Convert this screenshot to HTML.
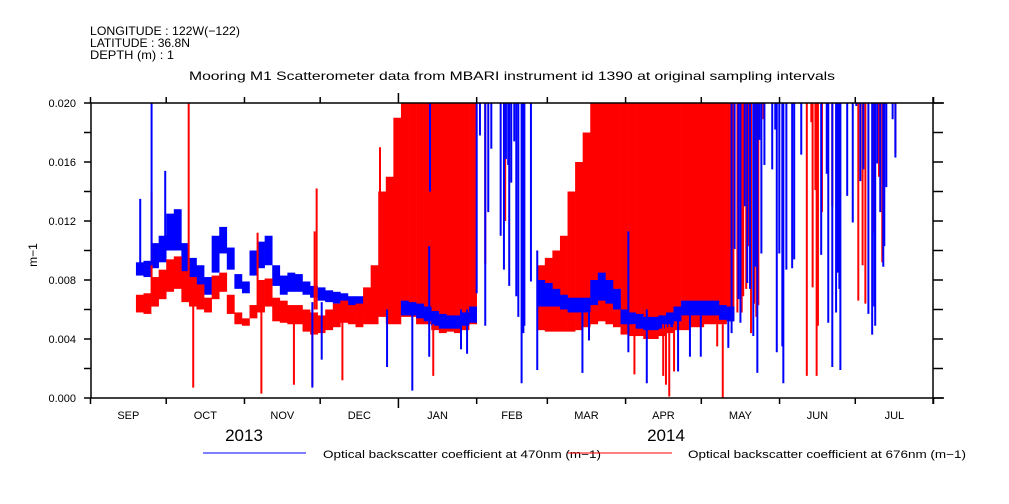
<!DOCTYPE html>
<html><head><meta charset="utf-8"><style>
html,body{margin:0;padding:0;background:#fff;}
svg{display:block;font-family:"Liberation Sans",sans-serif;}
</style></head><body>
<svg id="chart" width="1009" height="504" viewBox="0 0 1009 504" xmlns="http://www.w3.org/2000/svg">
<g font-size="12" fill="#000">
<text x="90" y="35" textLength="150" lengthAdjust="spacingAndGlyphs">LONGITUDE : 122W(−122)</text>
<text x="90" y="47" textLength="100" lengthAdjust="spacingAndGlyphs">LATITUDE : 36.8N</text>
<text x="90" y="59" textLength="84" lengthAdjust="spacingAndGlyphs">DEPTH (m) : 1</text>
<text x="189" y="80" textLength="646" lengthAdjust="spacingAndGlyphs">Mooring M1 Scatterometer data from MBARI instrument id 1390 at original sampling intervals</text>
</g>
<g id="marks"></g>
<g id="axes"></g>
<text x="37" y="255" font-size="12" transform="rotate(-90 37 255)" text-anchor="middle">m−1</text>
<text x="244" y="441" font-size="17" text-anchor="middle">2013</text>
<text x="666" y="441" font-size="17" text-anchor="middle">2014</text>
<g font-size="11">
<line x1="203" y1="453" x2="306" y2="453" stroke="#0000ff" stroke-width="1"/>
<text x="323" y="458" textLength="278" lengthAdjust="spacingAndGlyphs">Optical backscatter coefficient at 470nm (m−1)</text>
<line x1="568" y1="453" x2="672" y2="453" stroke="#ff0000" stroke-width="1"/>
<text x="688" y="458" textLength="278" lengthAdjust="spacingAndGlyphs">Optical backscatter coefficient at 676nm (m−1)</text>
</g>
</svg>
<script>
// bins: start day (days since 2013-09-01), 3-day bins; values in units of 0.001 m-1
const binStartDay = 18;
const binDays = 3;
const blueLo = [8.3,8.2,8.8,9.2,10,10,8.5,7.8,7.5,7,8.5,9.8,8.7,7.4,7.1,8.3,8.8,9,7.6,7,7.2,7.2,7,6.8,6.6,6.5,6.4,6.4,6.2,6,6,5.8,5.8,5.9,6,5.6,5.6,5.4,5.2,4.9,4.7,4.7,4.7,4.9,5.1,null,null,null,null,null,null,null,null,6.2,6.2,6.2,6,5.8,5.8,5.8,6.3,6.6,6.4,6,5,5,4.7,4.6,4.6,4.7,4.8,5.2,5.6,5.6,5.6,5.6,5.6,5.3,5.2];
const blueHi = [9.2,9.3,10.5,11,12.5,12.8,10.5,9.5,9,8.2,11,11.6,10.2,8.4,7.9,10,10.6,11,9,8.3,8.5,8.4,7.9,7.6,7.5,7.3,7.2,7.1,6.9,6.9,6.9,6.9,7,7.4,7.3,6.6,6.5,6.4,6.2,5.9,5.7,5.6,5.6,5.8,6.2,null,null,null,null,null,null,null,null,8,7.8,7.4,7,6.8,6.8,6.8,8,8.5,8,7.4,6,5.8,5.7,5.5,5.5,5.6,5.8,6.2,6.6,6.6,6.6,6.6,6.6,6.3,6.2];
const redLo = [5.8,5.7,6.2,6.7,7.2,7.4,6.5,6.2,6,5.8,6.7,7.2,5.7,5,4.9,5.4,5.8,6.2,5.2,5.1,5,5,4.5,4.3,4.4,4.6,4.8,5.1,5,4.8,5,5,5.5,5,5,5.5,5.5,5,5,4.6,4.4,4.5,4.4,4.6,5,null,null,null,null,null,null,null,null,4.6,4.5,4.5,4.5,4.5,4.6,4.8,5,5.2,5,4.8,4.3,4.2,4.2,4,4,4.2,4.4,4.6,4.6,4.8,4.8,5,5,5,5.2];
const redHi = [7,7.1,8.2,8.7,9.4,9.6,8.6,8.2,7.7,6.8,8.3,8.5,7,5.8,5.4,6.3,8,8.1,6.8,6.6,6.3,6.3,6,5.8,5.6,6,6.4,6.6,6.3,6.4,7.5,9,14,15,19,20,20,20,20,20,20,20,20,20,20,null,null,null,null,null,null,null,null,9,9.5,10,11,14,16,18,20,20,20,20,20,20,20,20,20,20,20,20,20,20,20,20,20,20,20];
// spikes: [day, low, high]
const blueSpikeDay = [19.7,24.2,29.6,87.9,91.6,117.5,127.5,134.2,134.5,146.8,149.2,153,154.3,156.4,157.6,158.8,162.5,163.8,164.6,165.5,165.9,166.7,167.9,168.7,169.5,170.8,171.5,171.9,174.5,177,194.9,197.5,213.1,220.4,232.8,237.5,241.8,252.7,254,255.2,256.7,257.5,259.2,260.2,261.3,262.6,263.4,264.2,265,265.8,267,270.1,271.3,271.9,272.9,274.1,274.5,275.7,278,278.8,281.6,289.5,291.7,292.3,293.9,295.4,296,296.7,297.1,299.8,302,303.4,305,306.2,308.2,309.7,310.5,310.9,311.7,312.9,314.1,314.5,315.3,317.8,318.9];
const blueSpikeLo = [8.5,9,10,0.7,2.6,2.1,0.5,2.8,14,3.3,3,7.1,17.8,4.9,12.6,16.9,11,8.7,16.2,15.8,7.6,14.6,17.4,6.9,5.5,1,4.4,4.9,7.9,1.9,1.7,3.9,3.1,1,1.8,2.8,2.8,3.4,4.4,10.1,6.7,5.1,13,7.8,7.4,4.2,8.9,1.7,17.5,9.8,15.8,15.5,18.2,3.1,9.8,3.5,1,8.7,8.8,9.4,16.5,9.7,15.2,5.1,2.1,5.8,8.5,7.4,1.9,13.7,11.9,19.8,14.7,15.5,5.7,4.3,6.2,4.9,15.9,12.6,8.9,10.3,14.3,18.9,16.3];
const blueSpikeHi = [13.5,20,15.4,6.5,6.5,6,6,10.3,20,6,6,20,20,20,20,20,20,20,20,20,20,20,20,20,20,20,20,20,20,10,6,6,11.3,6,6,6,6,6,20,20,20,20,20,20,20,20,20,20,20,20,20,20,20,20,20,20,20,20,20,20,20,20,20,20,20,20,20,20,20,20,20,20,20,20,20,20,20,20,20,20,20,20,20,20,20];
const redSpikeDay = [24.2,38.9,40.7,66.2,67.7,80.6,87.9,88.8,89.6,99.8,114.7,135.8,156.4,164,164.3,215.5,226.9,228,229.3,231.2,248.3,250.5,256.3,258,258.6,259.8,260.8,261.7,262.9,263.8,264.6,266.6,283.8,285.6,286.1,287.2,287.7,288.2,289.8,293.9,304.2,305.9,307,310.3,312.4,313.7,314.2,318.9];
const redSpikeLo = [7,7,0.7,6,0.3,0.9,0.8,6,6,1.2,6,1.5,9.1,13.4,12,1.6,1.5,0.9,0.1,1.8,3.5,0,5.8,5.8,6.9,7.4,10.3,4.4,6.4,5.5,6.3,18.9,1.5,18.7,7.5,14.1,1.5,4.9,12.6,13,6.6,9,6.4,11.2,15,9.2,14.3,16.6];
const redSpikeHi = [14,20,8,11.2,6,6,6,11.3,14.2,5.5,17,5,20,20,20,5,5,5,5,5,5,5,20,20,20,20,20,20,20,20,20,20,20,20,20,20,20,20,20,20,20,20,20,20,20,20,20,20];
const yTickValues = [0,2,4,6,8,10,12,14,16,18,20];
const yTickLabels = ["0.000","0.004","0.008","0.012","0.016","0.020"];
const monthLabels = ["SEP","OCT","NOV","DEC","JAN","FEB","MAR","APR","MAY","JUN","JUL"];
const monthStartDays = [0,30,61,91,122,153,181,212,242,273,303,334];

const X0=90.5, PXD=2.524, Y0=398, YTOP=103;
const xs = d => X0 + d*PXD;
const ys = v => Y0 - v/20*(Y0-YTOP);
const NS="http://www.w3.org/2000/svg";
const marks=document.getElementById('marks');
const axes=document.getElementById('axes');
function mk(tag,attrs,parent){const e=document.createElementNS(NS,tag);for(const k in attrs)e.setAttribute(k,attrs[k]);parent.appendChild(e);return e;}

function drawBins(lo,hi,color,nm,from,to){
  for(let i=from;i<Math.min(to,lo.length);i++){
    if(lo[i]==null||hi[i]==null)continue;
    const d=binStartDay+i*binDays;
    const r=mk('rect',{x:xs(d).toFixed(2),y:ys(hi[i]).toFixed(2),width:(binDays*PXD+0.3).toFixed(2),height:Math.max(1,ys(lo[i])-ys(hi[i])).toFixed(2),fill:color},marks);
    
    
  }
}
function drawSpikes(day,lo,hi,color,nm){
  for(let i=0;i<day.length;i++){
    const x=xs(day[i]).toFixed(2);
    const l=mk('line',{x1:x,x2:x,y1:ys(lo[i]).toFixed(2),y2:ys(hi[i]).toFixed(2),stroke:color,'stroke-width':2},marks);
    
    
  }
}
drawBins(blueLo,blueHi,'#0000ff','series-470nm-band',0,35);
drawBins(redLo,redHi,'#ff0000','series-676nm-band',0,999);
drawBins(blueLo,blueHi,'#0000ff','series-470nm-band',35,999);
drawSpikes(redSpikeDay,redSpikeLo,redSpikeHi,'#ff0000','series-676nm-spike');
drawSpikes(blueSpikeDay,blueSpikeLo,blueSpikeHi,'#0000ff','series-470nm-spike');

// axes
const st={stroke:'#000','stroke-width':1.5};
let a;
a=mk('line',Object.assign({x1:91,y1:YTOP,x2:944,y2:YTOP},st),axes);


a=mk('line',Object.assign({x1:91,y1:Y0,x2:944,y2:Y0},st),axes);


a=mk('line',Object.assign({x1:91,y1:YTOP,x2:91,y2:Y0},st),axes);


a=mk('line',Object.assign({x1:933,y1:YTOP-6,x2:933,y2:Y0+6},st),axes);


yTickValues.forEach((v,i)=>{
  const y=ys(v);
  const t=mk('line',Object.assign({x1:84,y1:y,x2:91,y2:y},st),axes);
  
  
  const t2=mk('line',Object.assign({x1:933,y1:y,x2:943,y2:y},st),axes);
  
  
  if(i%2===0){
    const tx=mk('text',{x:76,y:y+4,'font-size':11,'text-anchor':'end'},axes);
    tx.textContent=yTickLabels[i/2];
    
    
  }
});
monthStartDays.forEach((d,i)=>{
  const x=xs(d);
  const big = d===122;
  const tb=mk('line',Object.assign({x1:x,y1:Y0,x2:x,y2:Y0+(big?10:6)},st),axes);
  
  
  const tt=mk('line',Object.assign({x1:x,y1:YTOP,x2:x,y2:YTOP-(big?10:6)},st),axes);
  
  
  if(i<monthLabels.length){
    const mx=(xs(d)+xs(monthStartDays[i+1]))/2;
    const tx=mk('text',{x:mx,y:419,'font-size':11,'text-anchor':'middle'},axes);
    tx.textContent=monthLabels[i];
    
    
  }
});
</script>
</body></html>
